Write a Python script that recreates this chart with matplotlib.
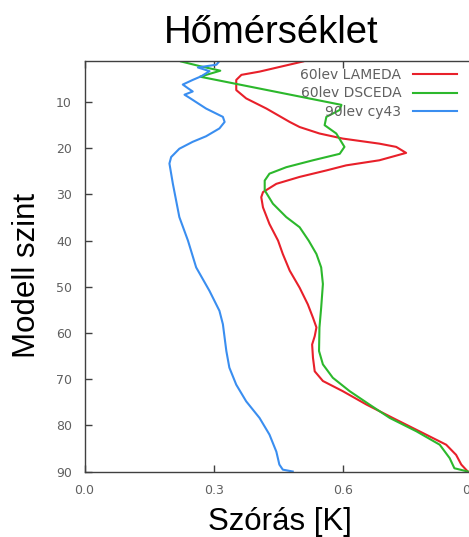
import matplotlib
matplotlib.use("Agg")
import matplotlib.pyplot as plt

# level / std dev pairs
lam_lev = [1.2, 3.4, 4.1, 5.2, 7.4, 9.2, 11.4, 14.3, 15.4, 16.8, 17.9, 19.0, 19.7, 21.0,
           22.6, 23.7, 24.8, 26.2, 27.7, 29.5, 30.6, 32.8, 36.4, 40.0, 42.9, 46.5, 50.2,
           53.8, 56.7, 58.8, 60.7, 62.5, 65.4, 68.3, 70.4, 72.6, 75.5, 78.4, 81.3, 84.2,
           86.4, 88.5, 90.0]
lam_val = [0.507, 0.406, 0.364, 0.352, 0.352, 0.375, 0.422, 0.476, 0.499, 0.545, 0.599,
           0.684, 0.723, 0.746, 0.684, 0.607, 0.561, 0.499, 0.445, 0.414, 0.410, 0.414,
           0.429, 0.449, 0.460, 0.476, 0.499, 0.518, 0.530, 0.538, 0.534, 0.528, 0.530,
           0.534, 0.553, 0.599, 0.654, 0.715, 0.777, 0.839, 0.862, 0.874, 0.889]

dsc_lev = [1.2, 2.2, 3.2, 4.5, 10.6, 11.7, 13.2, 15.0, 16.8, 19.7, 21.2, 22.6, 24.1, 25.5,
           27.0, 29.1, 32.0, 34.9, 37.1, 40.0, 42.9, 45.8, 49.4, 54.5, 58.8, 63.9, 66.8,
           69.7, 72.6, 75.5, 78.4, 81.3, 84.2, 87.1, 89.3, 90.0]
dsc_val = [0.224, 0.267, 0.315, 0.268, 0.596, 0.592, 0.561, 0.557, 0.584, 0.603, 0.592,
           0.530, 0.468, 0.429, 0.418, 0.418, 0.437, 0.468, 0.499, 0.520, 0.538, 0.549,
           0.553, 0.549, 0.545, 0.544, 0.553, 0.576, 0.615, 0.661, 0.708, 0.770, 0.824,
           0.847, 0.858, 0.889]

cy43_lev = [1.1, 1.9, 2.5, 3.3, 4.4, 5.2, 6.2, 7.0, 7.7, 8.4, 9.1, 11.4, 13.2, 14.3, 15.7,
            17.4, 18.6, 20.1, 21.9, 23.3, 27.7, 34.9, 40.0, 45.8, 50.9, 55.2, 58.1, 63.9,
            67.5, 71.2, 74.8, 78.4, 82.0, 85.7, 88.5, 89.6, 90.0]
cy43_val = [0.313, 0.306, 0.263, 0.290, 0.271, 0.251, 0.228, 0.240, 0.251, 0.232, 0.244,
            0.282, 0.321, 0.325, 0.313, 0.282, 0.251, 0.220, 0.201, 0.197, 0.205, 0.220,
            0.240, 0.259, 0.290, 0.313, 0.321, 0.329, 0.336, 0.352, 0.375, 0.406, 0.429,
            0.445, 0.452, 0.460, 0.483]

xticks = [0.0, 0.3, 0.6, 0.9]
yticks = [10, 20, 30, 40, 50, 60, 70, 80, 90]

W, H = 469, 537
fig = plt.figure(figsize=(W / 100, H / 100), dpi=100)
ax = fig.add_axes([84.5 / W, 1 - 471.5 / H, 388 / W, 410.5 / H])

ax.plot(lam_val, lam_lev, color="#e8202a", lw=1.5, label="60lev LAMEDA")
ax.plot(dsc_val, dsc_lev, color="#2cb82c", lw=1.5, label="60lev DSCEDA")
ax.plot(cy43_val, cy43_lev, color="#3a8ef0", lw=1.5, label="90lev cy43")

ax.set_xlim(0, 0.9)
ax.set_ylim(90, 1.1)
ax.set_xticks(xticks)
ax.set_xticklabels(["%.1f" % t for t in xticks])
ax.set_yticks(yticks)
ax.tick_params(direction="in", length=5, width=1, color="#404040",
               labelcolor="#606060", labelsize=9, top=True, right=False, pad=9)
for s in ax.spines.values():
    s.set_color("#404040")
    s.set_linewidth(1.0)

leg = ax.legend(loc="upper right", bbox_to_anchor=(0.96, 0.984), frameon=False,
                markerfirst=False, fontsize=10, handlelength=3.2, handletextpad=0.8,
                labelspacing=0.35, borderpad=0, borderaxespad=0)
for t in leg.get_texts():
    t.set_color("#606060")

fig.text(271 / W, 1 - 43 / H, "Hőmérséklet", ha="center", va="baseline",
         fontsize=27.5, family="Liberation Sans")
fig.text(280 / W, 1 - 530 / H, "Szórás [K]", ha="center", va="baseline",
         fontsize=22.5, family="Liberation Sans")
fig.text(27 / W, 1 - 275 / H, "Modell szint", ha="center", va="center", rotation=90,
         fontsize=22.5, family="Liberation Sans")

fig.savefig("out.png", dpi=100)
